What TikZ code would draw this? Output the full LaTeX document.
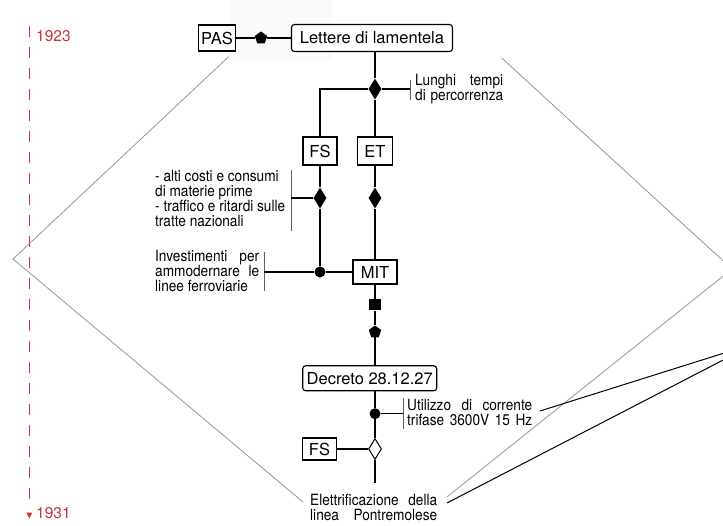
\documentclass[tikz,border=0pt]{standalone}
\usepackage{fontspec}
\setmainfont{TeX Gyre Heros}
\newfontfamily\narrowsans{TeX Gyre Heros}[FakeStretch=0.88]
\usetikzlibrary{shapes.geometric,calc}

\definecolor{timered}{RGB}{200,50,55}
\definecolor{guide}{RGB}{150,150,150}
\definecolor{barc}{RGB}{95,95,95}

\newcommand{\boxfont}{\fontsize{16.5}{18}\selectfont}
\newcommand{\notefont}{\narrowsans\fontsize{15.5}{15}\selectfont}
\newcommand{\yearfont}{\fontsize{15.5}{17}\selectfont}
% a text line spread to a fixed width
\newcommand{\jline}[2]{\makebox[#1][s]{#2}}

\tikzset{
  box/.style={draw, line width=1.1pt, fill=white, inner sep=0pt, font=\boxfont},
  rbox/.style={box, rounded corners=3pt},
  fdia/.style={diamond, fill=black, inner sep=0pt, minimum width=13pt, minimum height=21pt},
  odia/.style={diamond, draw, fill=white, line width=1pt, inner sep=0pt, minimum width=13pt, minimum height=21pt},
  dot/.style={circle, fill=black, inner sep=0pt, minimum size=11pt},
  sqmark/.style={rectangle, fill=black, inner sep=0pt, minimum width=12pt, minimum height=11pt},
  pent/.style={regular polygon, regular polygon sides=5, fill=black, inner sep=0pt, minimum size=13pt},
  note/.style={anchor=west, inner sep=0pt, align=left, font=\notefont},
  bar/.style={draw=barc, line width=0.9pt},
  guideline/.style={draw=guide, line width=0.8pt},
  link/.style={draw, line width=1.1pt},
  year/.style={anchor=west, inner sep=0pt, text=timered, font=\yearfont}
}

\begin{document}
\begin{tikzpicture}[x=1pt, y=-1pt]
\useasboundingbox (0,0) rectangle (723,526);
\clip (0,0) rectangle (723,526);

% faint backdrop behind the top link
\fill[black!2] (229,0) rectangle (332,60);

% timeline
\coordinate (t1) at (29.3,26);
\coordinate (t2) at (29.3,506);
\draw[timered, line width=0.9pt, dash pattern=on 11pt off 10pt] (t1) -- (t2);
\fill[timered] (26.3,512.5) -- (32.3,512.5) -- (29.3,518.5) -- cycle;
\node[year] (y1) at (36,36) {1923};
\node[year] (y2) at (36,513) {1931};

% large guide outline
\coordinate (g1) at (228.7,56.7);
\coordinate (gL) at (13,259);
\coordinate (g2) at (303,502);
\coordinate (g4) at (501.7,58);
\coordinate (gR) at (732,269);
\coordinate (g3) at (447,497);
\draw[guideline] (g1) -- (gL) -- (g2);
\draw[guideline] (g4) -- (gR) -- (g3);

% black pointer lines
\coordinate (k1) at (540,411);
\coordinate (k2) at (447,503);
\coordinate (kR) at (756,343);
\draw[line width=1pt] (k1) -- (kR) -- (k2);

% nodes
\node[box, minimum width=37pt, minimum height=26pt] (pas) at (217,38) {PAS};
\node[pent] (pt1) at (261,38) {};
\node[rbox, minimum width=161pt, minimum height=27pt] (let) at (372,38) {Lettere di lamentela};
\node[fdia] (d1) at (375,89) {};
\node[box, minimum width=34pt, minimum height=28pt] (fs1) at (320,151) {FS};
\node[box, minimum width=35pt, minimum height=28pt] (et) at (375,151) {ET};
\node[fdia] (d2) at (320,198) {};
\node[fdia] (d3) at (375,198) {};
\node[dot] (c1) at (320,272) {};
\node[box, minimum width=44pt, minimum height=24pt] (mit) at (375,272) {MIT};
\node[sqmark] (s1) at (375,305) {};
\node[pent] (pt2) at (375,332) {};
\node[rbox, minimum width=134pt, minimum height=25pt] (dec) at (369.7,378.3) {Decreto 28.12.27};
\node[dot] (c2) at (375,413.7) {};
\node[odia] (d4) at (375,449) {};
\node[box, minimum width=34pt, minimum height=22pt] (fs2) at (319.5,449) {FS};
\coordinate (e1) at (375,483);

% bracket ends
\coordinate (b1) at (410,89);
\coordinate (b2) at (291,198);
\coordinate (b3) at (264,272);
\coordinate (b4) at (403,413.7);
\draw[bar] ($(b1)+(0,-9)$) -- ($(b1)+(0,11)$);
\draw[bar] ($(b2)+(0,-28)$) -- ($(b2)+(0,33)$);
\draw[bar] ($(b3)+(0,-20)$) -- ($(b3)+(0,19)$);
\draw[bar] ($(b4)+(0,-16)$) -- ($(b4)+(0,15)$);

% notes
\node[note] (n1) at (415,89) {\jline{88pt}{Lunghi tempi}\\\jline{88pt}{di percorrenza}};
\node[note] (n2) at (155,198) {- alti costi e consumi\\di materie prime\\- traffico e ritardi sulle\\tratte nazionali};
\node[note] (n3) at (155,271) {\jline{104pt}{Investimenti per}\\\jline{104pt}{ammodernare le}\\linee ferroviarie};
\node[note] (n4) at (407,412) {\jline{125pt}{Utilizzo di corrente}\\\jline{125pt}{trifase 3600V 15 Hz}};
\node[note] (n5) at (310,507) {\jline{127pt}{Elettrificazione della}\\\jline{127pt}{linea Pontremolese}};

% connectors
\draw[link] (pas) -- (pt1) -- (let);
\draw[link] (let.south -| d1) -- (d1);
\draw[link] (d1.west) -| (fs1.north);
\draw[link] (d1) -- (et);
\draw[link] (d1.east) -- (b1);
\draw[link] (fs1) -- (d2) -- (c1);
\draw[link] (d2.west) -- (b2);
\draw[link] (et) -- (d3) -- (mit);
\draw[link] (c1) -- (mit);
\draw[link] (c1) -- (b3);
\draw[link] (mit) -- (s1) -- (pt2) -- (pt2 |- dec.north);
\draw[link] (dec.south -| c2) -- (c2) -- (d4) -- (e1);
\draw[link] (c2) -- (b4);
\draw[link] (fs2) -- (d4);
\end{tikzpicture}
\end{document}
